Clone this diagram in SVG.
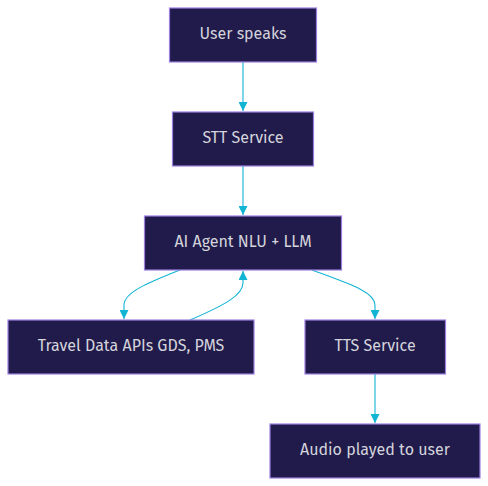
<svg xmlns="http://www.w3.org/2000/svg" width="488" height="486" viewBox="0 0 488 486">
<defs>
<style>
.node rect{fill:#201b4a;stroke:#9d7fe0;stroke-width:1.2}
.node text{fill:#d4d4dc;font-family:"Fira Sans","Noto Sans","Open Sans",sans-serif;font-size:16px;text-anchor:middle;dominant-baseline:central}
.edge{fill:none;stroke:#12b4d4;stroke-width:1.1}
</style>
<marker id="arr" viewBox="0 0 10 10" refX="10" refY="5" markerWidth="9" markerHeight="9" markerUnits="userSpaceOnUse" orient="auto">
<path d="M0,0 L10,5 L0,10 z" fill="#12b4d4"/>
</marker>
</defs>
<rect width="488" height="486" fill="#ffffff"/>
<g id="connectors">
<path class="edge" d="M243,62 L243,111" marker-end="url(#arr)"/>
<path class="edge" d="M243,166 L243,215" marker-end="url(#arr)"/>
<path class="edge" d="M180,270 C150,282 124,292 124,305 L124,319" marker-end="url(#arr)"/>
<path class="edge" d="M190,320 C225,305 243,295 243,283 L243,271" marker-end="url(#arr)"/>
<path class="edge" d="M312,270 C350,284 375,292 375,305 L375,319" marker-end="url(#arr)"/>
<path class="edge" d="M375,374 L375,423" marker-end="url(#arr)"/>
</g>
<g id="user" class="node"><rect x="169.5" y="8" width="147" height="54"/><text x="243" y="33.5">User speaks</text></g>
<g id="stt" class="node"><rect x="172.5" y="112" width="141" height="54"/><text x="243" y="137.5">STT Service</text></g>
<g id="agent" class="node"><rect x="144.5" y="216" width="197" height="54"/><text x="243" y="241.5">AI Agent NLU + LLM</text></g>
<g id="travel" class="node"><rect x="8" y="320" width="246" height="54"/><text x="131" y="345.5">Travel Data APIs GDS, PMS</text></g>
<g id="tts" class="node"><rect x="305" y="320" width="140.5" height="54"/><text x="375" y="345.5">TTS Service</text></g>
<g id="audio" class="node"><rect x="270" y="424" width="210" height="54"/><text x="375" y="449.5">Audio played to user</text></g>
</svg>
